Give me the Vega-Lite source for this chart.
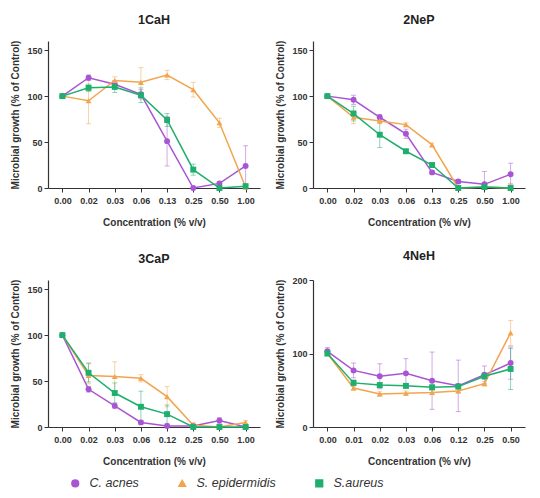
{
  "$schema": "https://vega.github.io/schema/vega-lite/v6.json",
  "background": "white",
  "padding": {"left": 10, "top": 13, "right": 5, "bottom": 0},
  "datasets": {
    "d": [
      {"p": "1CaH", "c": "0.00", "s": "C. acnes", "v": 100, "lo": 100, "hi": 100},
      {"p": "1CaH", "c": "0.02", "s": "C. acnes", "v": 120, "lo": 117, "hi": 123},
      {"p": "1CaH", "c": "0.03", "s": "C. acnes", "v": 113, "lo": 109, "hi": 117},
      {"p": "1CaH", "c": "0.06", "s": "C. acnes", "v": 102, "lo": 97, "hi": 107},
      {"p": "1CaH", "c": "0.13", "s": "C. acnes", "v": 51, "lo": 24, "hi": 78},
      {"p": "1CaH", "c": "0.25", "s": "C. acnes", "v": 0, "lo": 0, "hi": 0},
      {"p": "1CaH", "c": "0.50", "s": "C. acnes", "v": 5, "lo": 3, "hi": 7},
      {"p": "1CaH", "c": "1.00", "s": "C. acnes", "v": 24, "lo": 2, "hi": 46},
      {"p": "1CaH", "c": "0.00", "s": "S. epidermidis", "v": 100, "lo": 100, "hi": 100},
      {"p": "1CaH", "c": "0.02", "s": "S. epidermidis", "v": 95, "lo": 70, "hi": 120},
      {"p": "1CaH", "c": "0.03", "s": "S. epidermidis", "v": 117, "lo": 113, "hi": 121},
      {"p": "1CaH", "c": "0.06", "s": "S. epidermidis", "v": 115, "lo": 100, "hi": 131},
      {"p": "1CaH", "c": "0.13", "s": "S. epidermidis", "v": 123, "lo": 118, "hi": 128},
      {"p": "1CaH", "c": "0.25", "s": "S. epidermidis", "v": 107, "lo": 99, "hi": 115},
      {"p": "1CaH", "c": "0.50", "s": "S. epidermidis", "v": 71, "lo": 66, "hi": 76},
      {"p": "1CaH", "c": "1.00", "s": "S. epidermidis", "v": 1, "lo": 0, "hi": 4},
      {"p": "1CaH", "c": "0.00", "s": "S.aureus", "v": 100, "lo": 100, "hi": 100},
      {"p": "1CaH", "c": "0.02", "s": "S.aureus", "v": 109, "lo": 105, "hi": 113},
      {"p": "1CaH", "c": "0.03", "s": "S.aureus", "v": 110, "lo": 104, "hi": 116},
      {"p": "1CaH", "c": "0.06", "s": "S.aureus", "v": 101, "lo": 93, "hi": 109},
      {"p": "1CaH", "c": "0.13", "s": "S.aureus", "v": 74, "lo": 67, "hi": 81},
      {"p": "1CaH", "c": "0.25", "s": "S.aureus", "v": 20, "lo": 14, "hi": 26},
      {"p": "1CaH", "c": "0.50", "s": "S.aureus", "v": 0, "lo": 0, "hi": 0},
      {"p": "1CaH", "c": "1.00", "s": "S.aureus", "v": 2, "lo": 0, "hi": 4},

      {"p": "2NeP", "c": "0.00", "s": "C. acnes", "v": 100, "lo": 100, "hi": 100},
      {"p": "2NeP", "c": "0.02", "s": "C. acnes", "v": 96, "lo": 91, "hi": 101},
      {"p": "2NeP", "c": "0.03", "s": "C. acnes", "v": 77, "lo": 74, "hi": 80},
      {"p": "2NeP", "c": "0.06", "s": "C. acnes", "v": 59, "lo": 54, "hi": 64},
      {"p": "2NeP", "c": "0.13", "s": "C. acnes", "v": 17, "lo": 15, "hi": 19},
      {"p": "2NeP", "c": "0.25", "s": "C. acnes", "v": 7, "lo": 5, "hi": 9},
      {"p": "2NeP", "c": "0.50", "s": "C. acnes", "v": 4, "lo": 0, "hi": 18},
      {"p": "2NeP", "c": "1.00", "s": "C. acnes", "v": 15, "lo": 4, "hi": 27},
      {"p": "2NeP", "c": "0.00", "s": "S. epidermidis", "v": 100, "lo": 100, "hi": 100},
      {"p": "2NeP", "c": "0.02", "s": "S. epidermidis", "v": 77, "lo": 70, "hi": 84},
      {"p": "2NeP", "c": "0.03", "s": "S. epidermidis", "v": 73, "lo": 70, "hi": 76},
      {"p": "2NeP", "c": "0.06", "s": "S. epidermidis", "v": 69, "lo": 67, "hi": 71},
      {"p": "2NeP", "c": "0.13", "s": "S. epidermidis", "v": 47, "lo": 45, "hi": 49},
      {"p": "2NeP", "c": "0.25", "s": "S. epidermidis", "v": 0, "lo": 0, "hi": 2},
      {"p": "2NeP", "c": "0.50", "s": "S. epidermidis", "v": 1, "lo": 0, "hi": 3},
      {"p": "2NeP", "c": "1.00", "s": "S. epidermidis", "v": 0, "lo": 0, "hi": 5},
      {"p": "2NeP", "c": "0.00", "s": "S.aureus", "v": 100, "lo": 100, "hi": 100},
      {"p": "2NeP", "c": "0.02", "s": "S.aureus", "v": 81, "lo": 73, "hi": 89},
      {"p": "2NeP", "c": "0.03", "s": "S.aureus", "v": 58, "lo": 44, "hi": 72},
      {"p": "2NeP", "c": "0.06", "s": "S.aureus", "v": 40, "lo": 38, "hi": 42},
      {"p": "2NeP", "c": "0.13", "s": "S.aureus", "v": 25, "lo": 23, "hi": 27},
      {"p": "2NeP", "c": "0.25", "s": "S.aureus", "v": 0, "lo": 0, "hi": 0},
      {"p": "2NeP", "c": "0.50", "s": "S.aureus", "v": 1, "lo": 0, "hi": 2},
      {"p": "2NeP", "c": "1.00", "s": "S.aureus", "v": 0, "lo": 0, "hi": 0},

      {"p": "3CaP", "c": "0.00", "s": "C. acnes", "v": 100, "lo": 100, "hi": 100},
      {"p": "3CaP", "c": "0.02", "s": "C. acnes", "v": 41, "lo": 38, "hi": 44},
      {"p": "3CaP", "c": "0.03", "s": "C. acnes", "v": 23, "lo": 20, "hi": 26},
      {"p": "3CaP", "c": "0.06", "s": "C. acnes", "v": 5, "lo": 3, "hi": 7},
      {"p": "3CaP", "c": "0.12", "s": "C. acnes", "v": 1, "lo": 0, "hi": 2},
      {"p": "3CaP", "c": "0.25", "s": "C. acnes", "v": 1, "lo": 0, "hi": 3},
      {"p": "3CaP", "c": "0.50", "s": "C. acnes", "v": 7, "lo": 4, "hi": 10},
      {"p": "3CaP", "c": "1.00", "s": "C. acnes", "v": 0, "lo": 0, "hi": 0},
      {"p": "3CaP", "c": "0.00", "s": "S. epidermidis", "v": 100, "lo": 100, "hi": 100},
      {"p": "3CaP", "c": "0.02", "s": "S. epidermidis", "v": 56, "lo": 47, "hi": 70},
      {"p": "3CaP", "c": "0.03", "s": "S. epidermidis", "v": 55, "lo": 39, "hi": 71},
      {"p": "3CaP", "c": "0.06", "s": "S. epidermidis", "v": 53, "lo": 49, "hi": 57},
      {"p": "3CaP", "c": "0.12", "s": "S. epidermidis", "v": 33, "lo": 22, "hi": 44},
      {"p": "3CaP", "c": "0.25", "s": "S. epidermidis", "v": 2, "lo": 0, "hi": 5},
      {"p": "3CaP", "c": "0.50", "s": "S. epidermidis", "v": 0, "lo": 0, "hi": 2},
      {"p": "3CaP", "c": "1.00", "s": "S. epidermidis", "v": 5, "lo": 3, "hi": 7},
      {"p": "3CaP", "c": "0.00", "s": "S.aureus", "v": 100, "lo": 100, "hi": 100},
      {"p": "3CaP", "c": "0.02", "s": "S.aureus", "v": 59, "lo": 49, "hi": 69},
      {"p": "3CaP", "c": "0.03", "s": "S.aureus", "v": 37, "lo": 26, "hi": 48},
      {"p": "3CaP", "c": "0.06", "s": "S.aureus", "v": 22, "lo": 5, "hi": 39},
      {"p": "3CaP", "c": "0.12", "s": "S.aureus", "v": 14, "lo": 4, "hi": 24},
      {"p": "3CaP", "c": "0.25", "s": "S.aureus", "v": 0, "lo": 0, "hi": 0},
      {"p": "3CaP", "c": "0.50", "s": "S.aureus", "v": 0, "lo": 0, "hi": 0},
      {"p": "3CaP", "c": "1.00", "s": "S.aureus", "v": 0, "lo": 0, "hi": 0},

      {"p": "4NeH", "c": "0.00", "s": "C. acnes", "v": 103, "lo": 98, "hi": 108},
      {"p": "4NeH", "c": "0.01", "s": "C. acnes", "v": 77, "lo": 67, "hi": 87},
      {"p": "4NeH", "c": "0.02", "s": "C. acnes", "v": 69, "lo": 52, "hi": 86},
      {"p": "4NeH", "c": "0.03", "s": "C. acnes", "v": 73, "lo": 53, "hi": 93},
      {"p": "4NeH", "c": "0.06", "s": "C. acnes", "v": 63, "lo": 24, "hi": 102},
      {"p": "4NeH", "c": "0.12", "s": "C. acnes", "v": 56, "lo": 21, "hi": 91},
      {"p": "4NeH", "c": "0.25", "s": "C. acnes", "v": 71, "lo": 59, "hi": 83},
      {"p": "4NeH", "c": "0.50", "s": "C. acnes", "v": 87, "lo": 65, "hi": 109},
      {"p": "4NeH", "c": "0.00", "s": "S. epidermidis", "v": 100, "lo": 97, "hi": 103},
      {"p": "4NeH", "c": "0.01", "s": "S. epidermidis", "v": 53, "lo": 50, "hi": 56},
      {"p": "4NeH", "c": "0.02", "s": "S. epidermidis", "v": 45, "lo": 42, "hi": 48},
      {"p": "4NeH", "c": "0.03", "s": "S. epidermidis", "v": 46, "lo": 43, "hi": 49},
      {"p": "4NeH", "c": "0.06", "s": "S. epidermidis", "v": 47, "lo": 44, "hi": 50},
      {"p": "4NeH", "c": "0.12", "s": "S. epidermidis", "v": 49, "lo": 46, "hi": 52},
      {"p": "4NeH", "c": "0.25", "s": "S. epidermidis", "v": 59, "lo": 56, "hi": 62},
      {"p": "4NeH", "c": "0.50", "s": "S. epidermidis", "v": 128, "lo": 111, "hi": 145},
      {"p": "4NeH", "c": "0.00", "s": "S.aureus", "v": 100, "lo": 97, "hi": 103},
      {"p": "4NeH", "c": "0.01", "s": "S.aureus", "v": 60, "lo": 56, "hi": 64},
      {"p": "4NeH", "c": "0.02", "s": "S.aureus", "v": 57, "lo": 54, "hi": 60},
      {"p": "4NeH", "c": "0.03", "s": "S.aureus", "v": 56, "lo": 53, "hi": 59},
      {"p": "4NeH", "c": "0.06", "s": "S.aureus", "v": 54, "lo": 51, "hi": 57},
      {"p": "4NeH", "c": "0.12", "s": "S.aureus", "v": 55, "lo": 52, "hi": 58},
      {"p": "4NeH", "c": "0.25", "s": "S.aureus", "v": 69, "lo": 65, "hi": 73},
      {"p": "4NeH", "c": "0.50", "s": "S.aureus", "v": 79, "lo": 51, "hi": 107}
    ]
  },
  "columns": 2,
  "spacing": {"row": 22, "column": 15},
  "concat": [
    {
      "title": "1CaH",
      "width": 212, "height": 147,
      "data": {"name": "d"},
      "transform": [{"filter": "datum.p === '1CaH'"}],
      "encoding": {
        "x": {"field": "c", "type": "ordinal", "title": "Concentration (% v/v)", "scale": {"type": "point", "padding": 0.55}, "axis": {"labelAngle": 0}},
        "color": {"field": "s", "type": "nominal", "scale": {"domain": ["C. acnes", "S. epidermidis", "S.aureus"]}}
      },
      "layer": [
        {"mark": {"type": "errorbar", "ticks": {"size": 5}, "opacity": 0.5, "thickness": 1}, "encoding": {"y": {"field": "lo", "type": "quantitative", "scale": {"domain": [0, 150]}, "title": "Microbial growth (% of Control)"}, "y2": {"field": "hi"}}},
        {"mark": {"type": "line", "strokeWidth": 1.5}, "encoding": {"y": {"field": "v", "type": "quantitative", "scale": {"domain": [0, 150]}, "axis": {"values": [0, 50, 100, 150]}, "title": "Microbial growth (% of Control)"}}},
        {"mark": {"type": "point", "filled": true, "opacity": 1, "size": 35}, "encoding": {"y": {"field": "v", "type": "quantitative", "title": "Microbial growth (% of Control)"}, "shape": {"field": "s", "type": "nominal", "scale": {"domain": ["C. acnes", "S. epidermidis", "S.aureus"]}}}}
      ]
    },
    {
      "title": "2NeP",
      "width": 212, "height": 147,
      "data": {"name": "d"},
      "transform": [{"filter": "datum.p === '2NeP'"}],
      "encoding": {
        "x": {"field": "c", "type": "ordinal", "title": "Concentration (% v/v)", "scale": {"type": "point", "padding": 0.55}, "axis": {"labelAngle": 0}},
        "color": {"field": "s", "type": "nominal", "scale": {"domain": ["C. acnes", "S. epidermidis", "S.aureus"]}}
      },
      "layer": [
        {"mark": {"type": "errorbar", "ticks": {"size": 5}, "opacity": 0.5, "thickness": 1}, "encoding": {"y": {"field": "lo", "type": "quantitative", "scale": {"domain": [0, 150]}, "title": "Microbial growth (% of Control)"}, "y2": {"field": "hi"}}},
        {"mark": {"type": "line", "strokeWidth": 1.5}, "encoding": {"y": {"field": "v", "type": "quantitative", "scale": {"domain": [0, 150]}, "axis": {"values": [0, 50, 100, 150]}, "title": "Microbial growth (% of Control)"}}},
        {"mark": {"type": "point", "filled": true, "opacity": 1, "size": 35}, "encoding": {"y": {"field": "v", "type": "quantitative", "title": "Microbial growth (% of Control)"}, "shape": {"field": "s", "type": "nominal", "scale": {"domain": ["C. acnes", "S. epidermidis", "S.aureus"]}}}}
      ]
    },
    {
      "title": "3CaP",
      "width": 212, "height": 147,
      "data": {"name": "d"},
      "transform": [{"filter": "datum.p === '3CaP'"}],
      "encoding": {
        "x": {"field": "c", "type": "ordinal", "title": "Concentration (% v/v)", "scale": {"type": "point", "padding": 0.55}, "axis": {"labelAngle": 0}},
        "color": {"field": "s", "type": "nominal", "scale": {"domain": ["C. acnes", "S. epidermidis", "S.aureus"]}}
      },
      "layer": [
        {"mark": {"type": "errorbar", "ticks": {"size": 5}, "opacity": 0.5, "thickness": 1}, "encoding": {"y": {"field": "lo", "type": "quantitative", "scale": {"domain": [0, 150]}, "title": "Microbial growth (% of Control)"}, "y2": {"field": "hi"}}},
        {"mark": {"type": "line", "strokeWidth": 1.5}, "encoding": {"y": {"field": "v", "type": "quantitative", "scale": {"domain": [0, 150]}, "axis": {"values": [0, 50, 100, 150]}, "title": "Microbial growth (% of Control)"}}},
        {"mark": {"type": "point", "filled": true, "opacity": 1, "size": 35}, "encoding": {"y": {"field": "v", "type": "quantitative", "title": "Microbial growth (% of Control)"}, "shape": {"field": "s", "type": "nominal", "scale": {"domain": ["C. acnes", "S. epidermidis", "S.aureus"]}}}}
      ]
    },
    {
      "title": "4NeH",
      "width": 212, "height": 147,
      "data": {"name": "d"},
      "transform": [{"filter": "datum.p === '4NeH'"}],
      "encoding": {
        "x": {"field": "c", "type": "ordinal", "title": "Concentration (% v/v)", "scale": {"type": "point", "padding": 0.55}, "axis": {"labelAngle": 0}},
        "color": {"field": "s", "type": "nominal", "scale": {"domain": ["C. acnes", "S. epidermidis", "S.aureus"]}}
      },
      "layer": [
        {"mark": {"type": "errorbar", "ticks": {"size": 5}, "opacity": 0.5, "thickness": 1}, "encoding": {"y": {"field": "lo", "type": "quantitative", "scale": {"domain": [0, 200]}, "title": "Microbial growth (% of Control)"}, "y2": {"field": "hi"}}},
        {"mark": {"type": "line", "strokeWidth": 1.5}, "encoding": {"y": {"field": "v", "type": "quantitative", "scale": {"domain": [0, 200]}, "axis": {"values": [0, 50, 100, 150, 200]}, "title": "Microbial growth (% of Control)"}}},
        {"mark": {"type": "point", "filled": true, "opacity": 1, "size": 35}, "encoding": {"y": {"field": "v", "type": "quantitative", "title": "Microbial growth (% of Control)"}, "shape": {"field": "s", "type": "nominal", "scale": {"domain": ["C. acnes", "S. epidermidis", "S.aureus"]}}}}
      ]
    }
  ],
  "resolve": {"scale": {"color": "shared", "shape": "shared"}},
  "config": {
    "font": "Liberation Sans",
    "view": {"stroke": null},
    "range": {"category": ["#A855D4", "#F2A550", "#1EAE6E"], "symbol": ["circle", "triangle-up", "square"]},
    "title": {"fontSize": 12.5, "fontWeight": "bold", "color": "#222", "offset": 14},
    "axis": {
      "grid": false,
      "domainColor": "#333",
      "tickColor": "#333",
      "domainWidth": 1.2,
      "tickSize": 4,
      "labelFontSize": 9,
      "labelFontWeight": "bold",
      "labelColor": "#333",
      "titleFontSize": 10,
      "titleFontWeight": "bold",
      "titleColor": "#333"
    },
    "axisX": {"labelPadding": 4, "titlePadding": 12},
    "axisY": {"titlePadding": 6},
    "legend": {
      "orient": "none",
      "legendX": 21,
      "legendY": 436,
      "direction": "horizontal",
      "title": null,
      "labelFontStyle": "italic",
      "labelFontSize": 12.5,
      "labelOffset": 8,
      "labelColor": "#333",
      "symbolSize": 45,
      "symbolOpacity": 1,
      "columnPadding": 36
    }
  }
}
